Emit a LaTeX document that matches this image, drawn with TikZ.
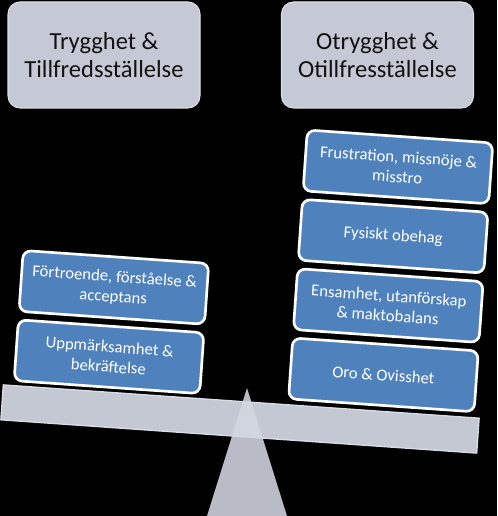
\documentclass[tikz,border=0pt]{standalone}
\usepackage{fontspec}
\setmainfont{Carlito}

\definecolor{headfill}{HTML}{C4C9D5}
\definecolor{headline}{HTML}{DADEE6}
\definecolor{boxblue}{HTML}{4F81BD}
\definecolor{beamfill}{HTML}{C3C8D2}
\definecolor{beamline}{HTML}{D8DCE4}
\definecolor{fulcrumfill}{HTML}{D3D7E2}
\definecolor{textdark}{HTML}{111111}

\tikzset{
  headbox/.style={draw=headline, line width=0.8pt, fill=headfill,
    rounded corners=9pt, minimum width=144pt, minimum height=79.5pt,
    align=center, text=textdark, font=\fontsize{18.4}{20.5}\selectfont},
  weightbox/.style={draw=white, line width=2pt, fill=boxblue,
    rounded corners=6pt, minimum width=139.5pt, minimum height=45.75pt,
    inner sep=2pt, align=center, text=white,
    font=\fontsize{12.5}{15}\selectfont}
}

\begin{document}
\begin{tikzpicture}[x=0.75pt, y=0.75pt]
  % Black page
  \useasboundingbox (0,0) rectangle (497,516);
  \fill[black] (0,0) rectangle (497,516);

  % The two headings
  \node[headbox] (trygg) at (104,461) {Trygghet \&\\Tillfredsställelse};
  \node[headbox] (otrygg) at (377.5,461) {Otrygghet \&\\Otillfresställelse};

  % Beam tipping to the right, with the weights stacked on it
  \begin{scope}[shift={(240,97)}, rotate=-4, transform shape]
    \draw[draw=beamline, fill=beamfill, line width=1pt]
      (-238.5,-17.5) rectangle (238.5,17.5);
    % Left pan
    \node[weightbox] (attention) at (-135,53) {Uppmärksamhet \&\\bekräftelse};
    \node[weightbox] (trust) at (-135,122.5) {Förtroende, förståelse \&\\acceptans};
    % Right pan
    \node[weightbox] (worry) at (140,54) {Oro \& Ovisshet};
    \node[weightbox] (lonely) at (140,123.5) {Ensamhet, utanförskap\\\& maktobalans};
    \node[weightbox] (discomfort) at (140,193) {Fysiskt obehag};
    \node[weightbox] (frustration) at (140,262.5) {Frustration, missnöje \&\\misstro};
  \end{scope}

  % Fulcrum
  \fill[fulcrumfill, opacity=0.88] (247,128) -- (207,0) -- (287,0) -- cycle;
\end{tikzpicture}
\end{document}
